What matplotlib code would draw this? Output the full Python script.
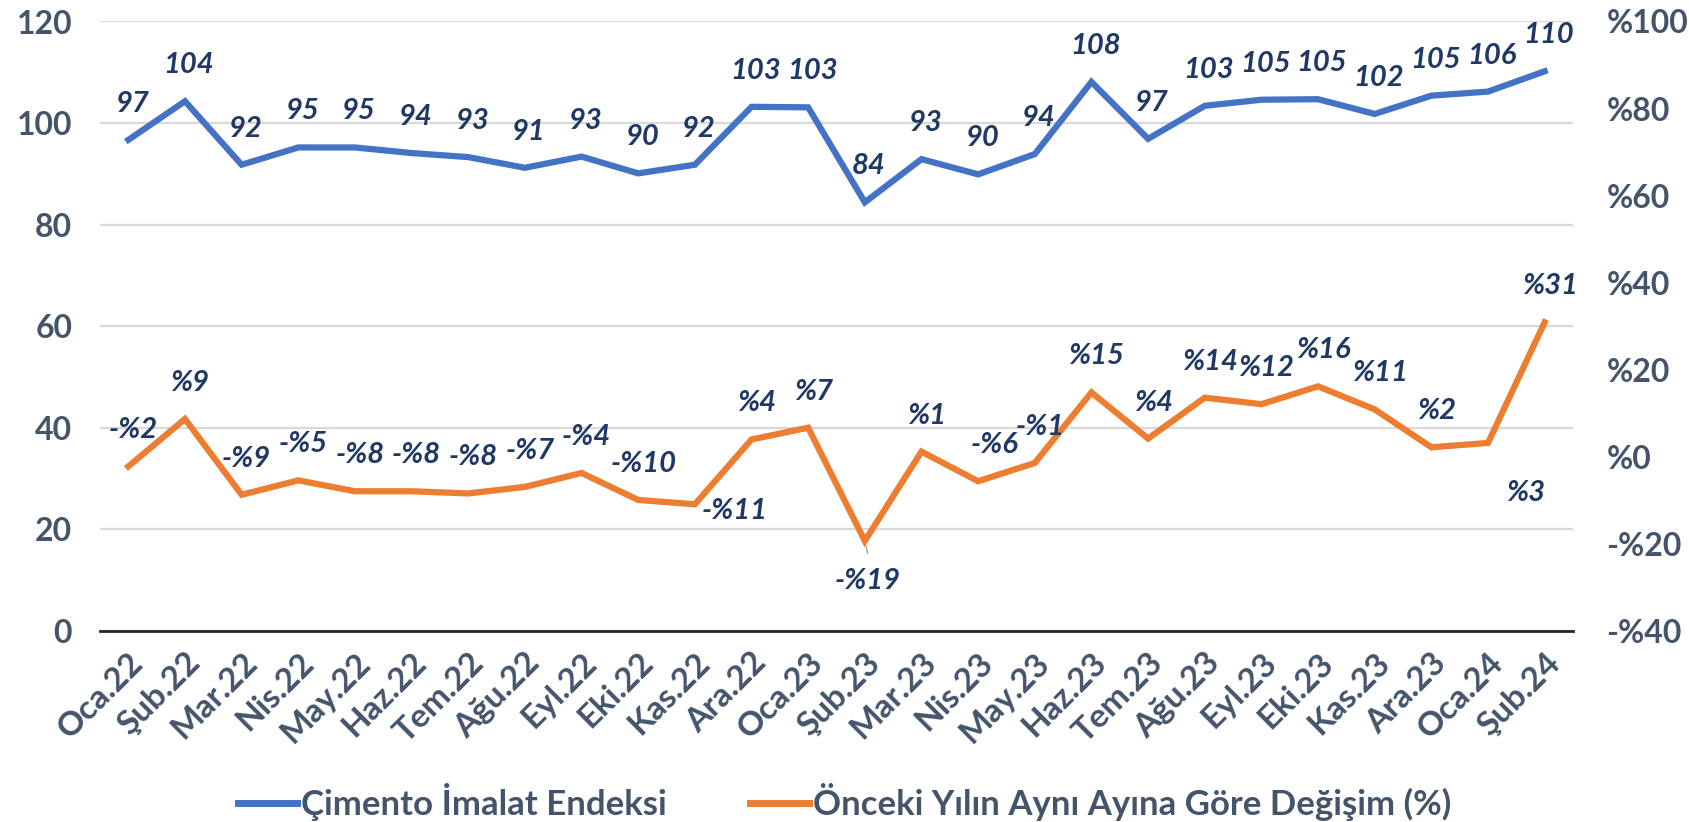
import numpy as np
import matplotlib.pyplot as plt
from matplotlib.ticker import FuncFormatter

plt.rcParams['font.family'] = ['Lato', 'DejaVu Sans']

months = ["Oca.22", "Şub.22", "Mar.22", "Nis.22", "May.22", "Haz.22", "Tem.22", "Ağu.22",
          "Eyl.22", "Eki.22", "Kas.22", "Ara.22", "Oca.23", "Şub.23", "Mar.23", "Nis.23",
          "May.23", "Haz.23", "Tem.23", "Ağu.23", "Eyl.23", "Eki.23", "Kas.23", "Ara.23",
          "Oca.24", "Şub.24"]
index_vals = [96.7, 104.3, 91.8, 95.2, 95.2, 94.1, 93.3, 91.2, 93.4, 90.1, 91.8, 103.2, 103.1,
              84.4, 92.9, 89.9, 93.9, 108.1, 96.9, 103.4, 104.6, 104.7, 101.8, 105.4, 106.2, 110.2]
change_vals = [-2.2, 8.7, -8.7, -5.4, -7.9, -7.9, -8.4, -6.9, -3.7, -9.9, -10.9, 4.0, 6.7,
               -19.3, 1.2, -5.6, -1.4, 14.8, 4.2, 13.6, 12.1, 16.2, 10.9, 2.2, 3.2, 30.9]

BLUE = "#4472C4"
ORANGE = "#ED7D31"
TICK_C = "#44546A"
LABEL_C = "#1F3864"

W, H = 1689, 822
fig = plt.figure(figsize=(W / 100, H / 100), dpi=100)
ax = fig.add_axes([100 / W, 1 - 631 / H, 1473 / W, (631 - 21.5) / H])
ax2 = ax.twinx()

x = np.arange(len(months))
ax.plot(x, index_vals, color=BLUE, lw=4.5, solid_joinstyle='miter', zorder=3)
ax2.plot(x, change_vals, color=ORANGE, lw=4.5, solid_joinstyle='miter', zorder=3)

ax.set_xlim(-0.5, len(months) - 0.5)
ax.set_ylim(0, 120)
ax2.set_ylim(-40, 100)
ax.set_yticks(np.arange(0, 121, 20))
ax2.set_yticks(np.arange(-40, 101, 20))
ax.yaxis.grid(True, color="#D9D9D9", lw=1.6)
ax.set_axisbelow(True)

for a in (ax, ax2):
    for s in ("top", "left", "right", "bottom"):
        a.spines[s].set_visible(False)
    a.tick_params(length=0)
ax.axhline(0, color="#262626", lw=2, zorder=2, clip_on=False)

ax.set_xticks(x)
ax.set_xticklabels(months, rotation=45, ha='right', rotation_mode='anchor',
                   fontsize=24, fontweight='bold', color=TICK_C)
ax.tick_params(axis='x', pad=12)
ax.tick_params(axis='y', labelsize=23, labelcolor=TICK_C, pad=20)
for t in ax.get_yticklabels():
    t.set_fontweight('bold')
ax2.tick_params(axis='y', labelsize=23, labelcolor=TICK_C, pad=24)
ax2.yaxis.set_major_formatter(FuncFormatter(lambda v, p: ("-%" if v < 0 else "%") + f"{abs(int(v))}"))
for t in ax2.get_yticklabels():
    t.set_fontweight('bold')

lab_kw = dict(textcoords='offset pixels', ha='center', va='center', fontsize=21,
              fontweight='bold', style='italic', color=LABEL_C, annotation_clip=False, zorder=5)

for i, v in enumerate(index_vals):
    ax.annotate(f"{round(v)}", (i, v), xytext=(4, 36), **lab_kw)

# special label placements for the change series
offsets = {10: (40, -7), 13: (3, -40), 15: (16, 36), 24: (38, -50)}
for i, v in enumerate(change_vals):
    r = round(v)
    txt = ("-%" if r < 0 else "%") + f"{abs(r)}"
    dx, dy = offsets.get(i, (5, 36))
    ax2.annotate(txt, (i, v), xytext=(dx, dy), **lab_kw)
ax2.annotate("", (13, change_vals[13]), xytext=(13.06, change_vals[13] - 3.5),
             arrowprops=dict(arrowstyle='-', color="#A6A6A6", lw=1), annotation_clip=False)

h1, = ax.plot([], [], color=BLUE, lw=5)
h2, = ax.plot([], [], color=ORANGE, lw=5)
fig.legend([h1, h2], ["Çimento İmalat Endeksi", "Önceki Yılın Aynı Ayına Göre Değişim (%)"],
           loc='center', bbox_to_anchor=(0.5, 1 - 802 / H), ncol=2, frameon=False,
           handlelength=1.7, handletextpad=0.12, columnspacing=2.4,
           prop=dict(size=25, weight='bold'), labelcolor=TICK_C)

fig.savefig("out.png", dpi=100)
